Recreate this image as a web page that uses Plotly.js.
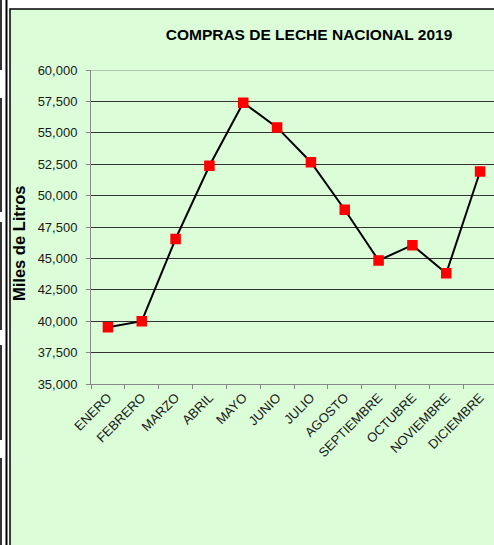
<!DOCTYPE html>
<html>
<head>
<meta charset="utf-8">
<script src="https://cdn.plot.ly/plotly-3.0.1.min.js"></script>
<style>
  html, body { margin: 0; padding: 0; overflow: hidden; background: #fff; }
  #chart { width: 500px; height: 545px; }
</style>
</head>
<body>
<div id="chart"></div>
<script>
'use strict';

const months = ['ENERO', 'FEBRERO', 'MARZO', 'ABRIL', 'MAYO', 'JUNIO', 'JULIO',
  'AGOSTO', 'SEPTIEMBRE', 'OCTUBRE', 'NOVIEMBRE', 'DICIEMBRE'];
// miles de litros
const compras = [39520, 40000, 46550, 52380, 57400, 55430, 52660, 48870,
  44840, 46050, 43810, 51920];
const yTicks = [35000, 37500, 40000, 42500, 45000, 47500, 50000, 52500,
  55000, 57500, 60000];

const FONT = 'Arial, "Liberation Sans", sans-serif';
const W = 500, H = 545;
const margin = {l: 91, r: 3, t: 70, b: 161};

// pixel -> paper coords, for the frame decorations
const plotW = W - margin.l - margin.r;
const plotH = H - margin.t - margin.b;
const px = x => (x - margin.l) / plotW;
const py = y => (H - margin.b - y) / plotH;

const trace = {
  x: months,
  y: compras,
  type: 'scatter',
  mode: 'lines+markers',
  line: {color: '#000000', width: 2},
  marker: {symbol: 'square', size: 9, color: '#ff0000', line: {color: '#ff0000', width: 1.5}},
  hoverinfo: 'x+y'
};

const shapes = [
  // green chart frame
  {type: 'rect', xref: 'paper', yref: 'paper', layer: 'below',
    x0: px(10), x1: px(510), y0: py(560), y1: py(9),
    fillcolor: '#dbfdd7', line: {color: '#000000', width: 1.5}},
  // spreadsheet border on the left
  {type: 'line', xref: 'paper', yref: 'paper', layer: 'below',
    x0: px(6.5), x1: px(6.5), y0: py(0), y1: py(545),
    line: {color: '#000000', width: 2}},
  // top gridline is grey in the original
  {type: 'line', xref: 'paper', yref: 'y', layer: 'between',
    x0: 0, x1: 1, y0: 60000, y1: 60000,
    line: {color: '#8c8c8c', width: 1}}
];
[[0, 70], [98, 212], [222, 330], [345, 440], [458, 545]].forEach(([a, b]) => {
  shapes.push({type: 'line', xref: 'paper', yref: 'paper', layer: 'below',
    x0: px(1), x1: px(1), y0: py(a), y1: py(b),
    line: {color: '#333333', width: 2}});
});

const layout = {
  width: W,
  height: H,
  margin: margin,
  paper_bgcolor: '#ffffff',
  plot_bgcolor: 'rgba(0,0,0,0)',
  showlegend: false,
  font: {family: FONT, size: 13, color: '#1a1a1a'},
  title: {
    text: '<b>COMPRAS DE LECHE NACIONAL 2019</b>',
    font: {family: FONT, size: 15.5, color: '#000000'},
    x: px(309), xref: 'paper', xanchor: 'center',
    y: 1 - 35 / H, yanchor: 'middle'
  },
  xaxis: {
    type: 'category',
    range: [-0.5, months.length - 0.5],
    tickangle: -45,
    ticks: 'outside',
    tickson: 'boundaries',
    ticklen: 4,
    tickcolor: '#888888',
    showline: true,
    linecolor: '#888888',
    linewidth: 1,
    showgrid: false,
    tickfont: {family: FONT, size: 13, color: '#1a1a1a'}
  },
  yaxis: {
    range: [35000, 60000],
    tickvals: yTicks,
    ticktext: yTicks.map(v => v.toLocaleString('en-US')),
    ticks: 'outside',
    ticklen: 4,
    tickcolor: '#888888',
    showline: true,
    linecolor: '#888888',
    linewidth: 1,
    showgrid: true,
    gridcolor: '#333333',
    gridwidth: 1,
    zeroline: false,
    ticklabelstandoff: 6,
    tickfont: {family: FONT, size: 13, color: '#1a1a1a'}
  },
  annotations: [{
    text: '<b>Miles de Litros</b>',
    xref: 'paper', yref: 'paper',
    x: px(19), y: py(243),
    xanchor: 'center', yanchor: 'middle',
    textangle: -90,
    showarrow: false,
    font: {family: FONT, size: 16.5, color: '#000000'}
  }],
  shapes: shapes
};

Plotly.newPlot('chart', [trace], layout, {displayModeBar: false, staticPlot: true});
</script>
</body>
</html>
